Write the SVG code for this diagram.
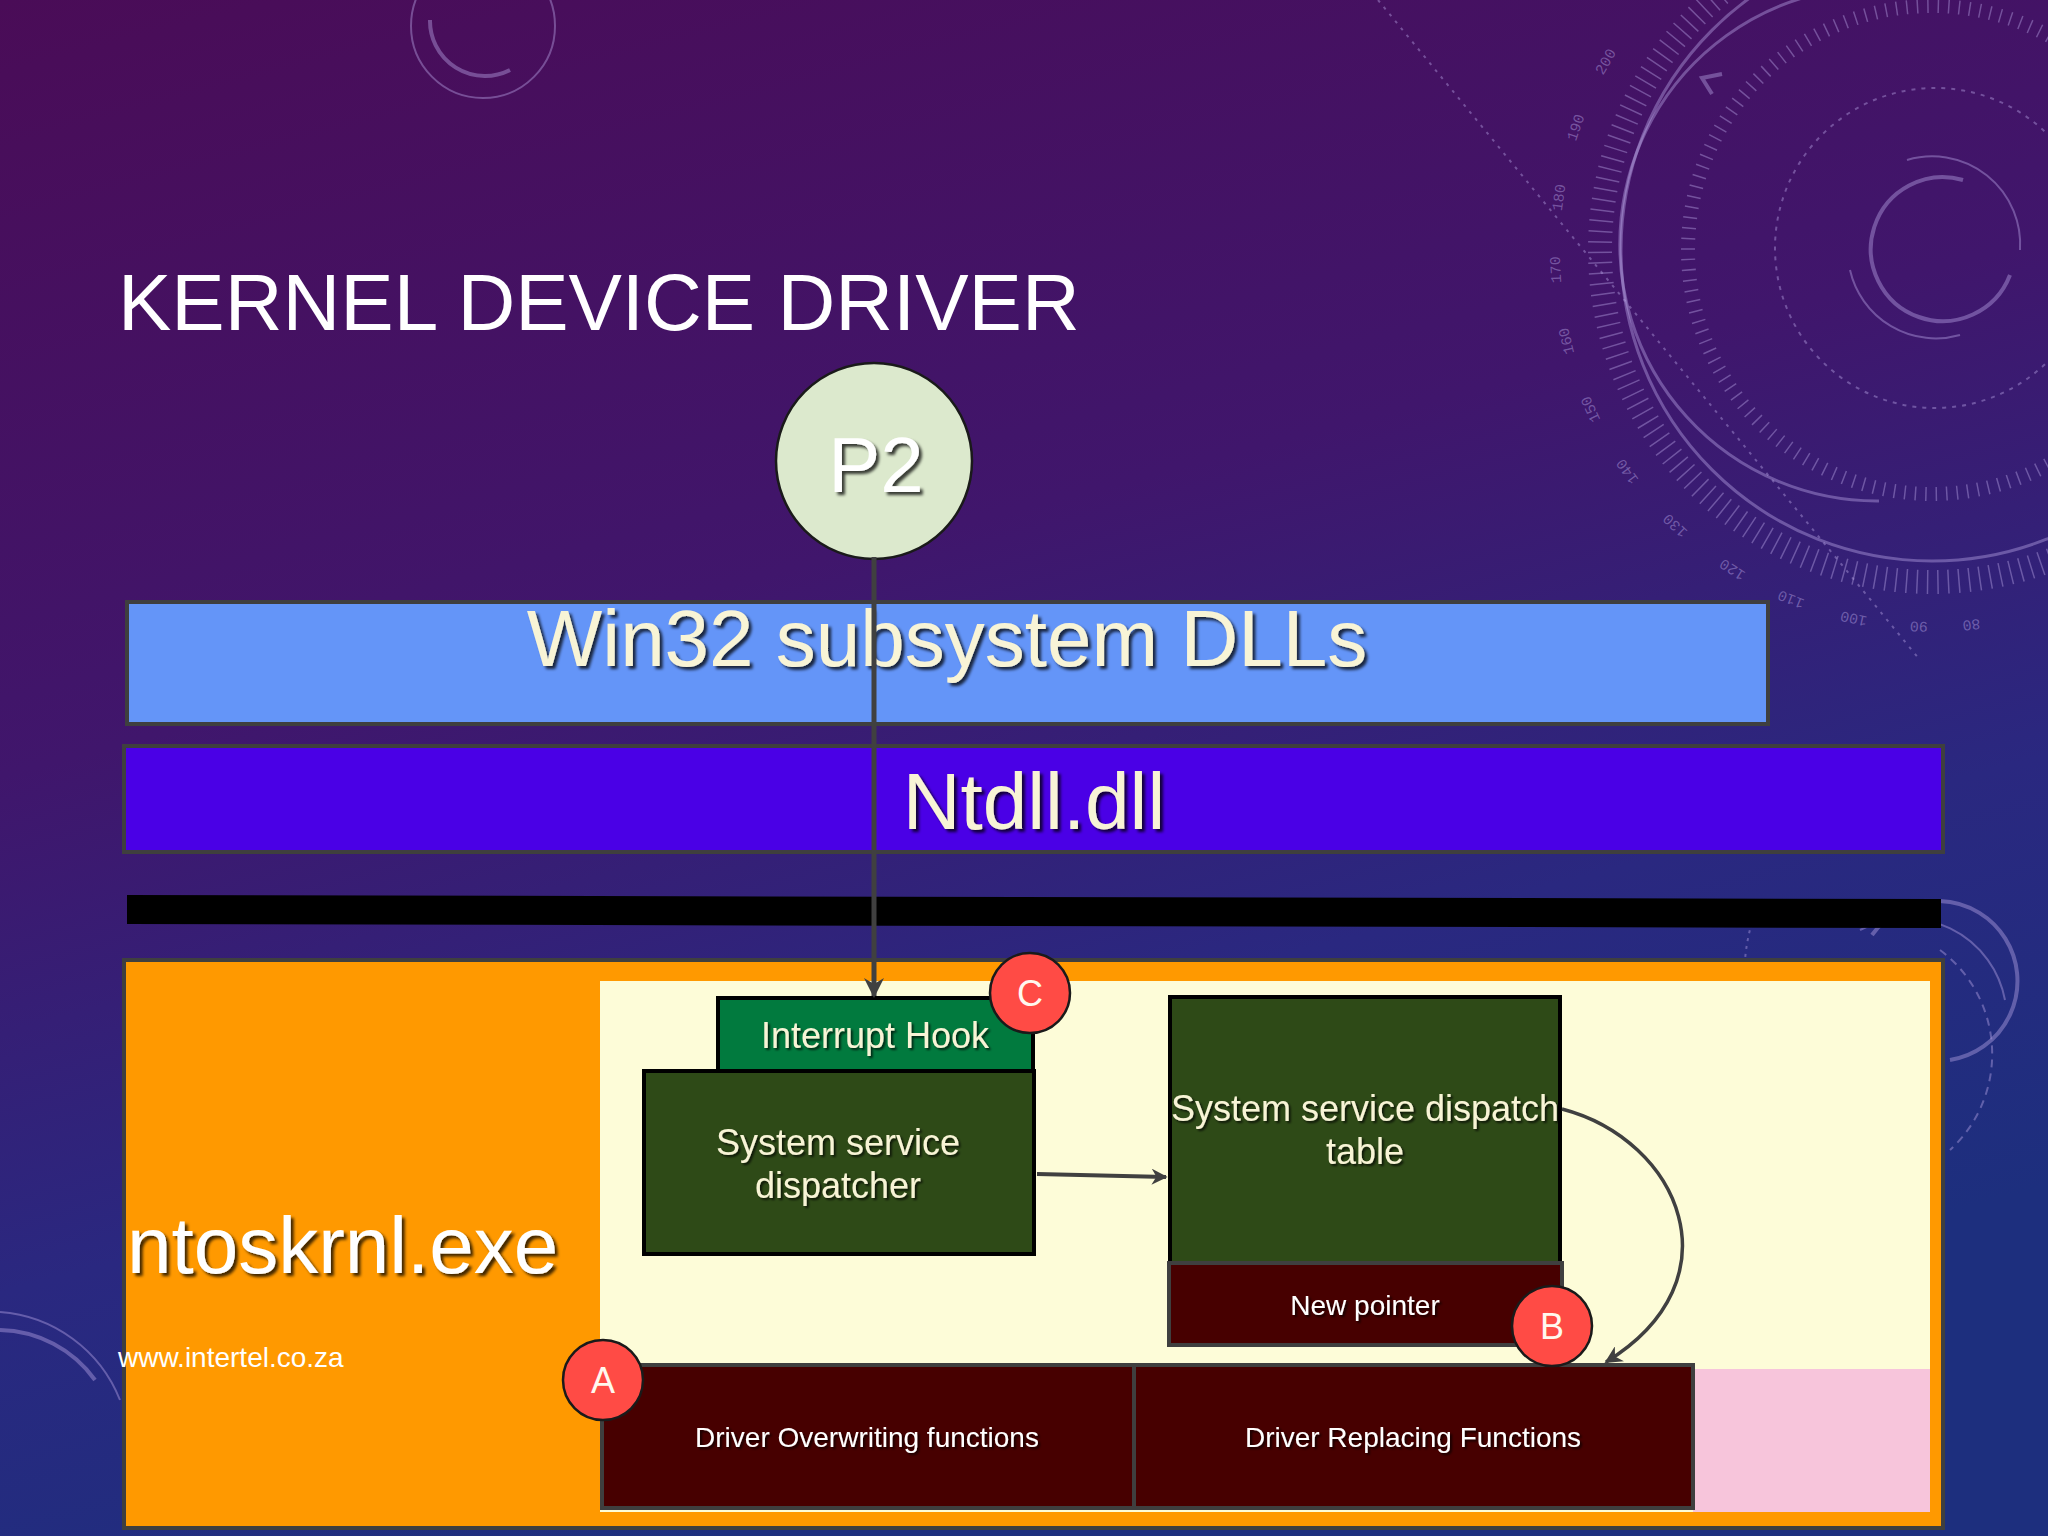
<svg xmlns="http://www.w3.org/2000/svg" width="2048" height="1536" viewBox="0 0 2048 1536">
<defs>
  <linearGradient id="bg" x1="0" y1="0" x2="0.35" y2="1">
    <stop offset="0" stop-color="#4a0c57"/>
    <stop offset="0.45" stop-color="#40166c"/>
    <stop offset="0.75" stop-color="#2a2880"/>
    <stop offset="1" stop-color="#1d2f7e"/>
  </linearGradient>
  <filter id="sh" x="-10%" y="-20%" width="130%" height="150%">
    <feDropShadow dx="3" dy="3" stdDeviation="1.5" flood-color="#000" flood-opacity="0.75"/>
  </filter>
  <filter id="shs" x="-10%" y="-20%" width="130%" height="150%">
    <feDropShadow dx="2" dy="2" stdDeviation="1" flood-color="#000" flood-opacity="0.7"/>
  </filter>
  <marker id="arr" viewBox="0 0 10 10" refX="9" refY="5" markerWidth="4" markerHeight="4" orient="auto" markerUnits="strokeWidth">
    <path d="M0,0 L10,5 L0,10 L3,5 z" fill="#404040"/>
  </marker>
  <marker id="arr2" viewBox="0 0 10 10" refX="9" refY="5" markerWidth="5" markerHeight="5" orient="auto" markerUnits="strokeWidth">
    <path d="M0,0 L10,5 L0,10 L3,5 z" fill="#404040"/>
  </marker>
</defs>
<style>
  .deco{fill:none;stroke:#b9a6e6;stroke-opacity:0.42}
  .num{font-family:"Liberation Mono",monospace;font-size:15px;fill:#b9a6e6;fill-opacity:0.45}
  .box{stroke:#3f3f3f;stroke-width:4}
  .blk{stroke:#000;stroke-width:4}
  .big{font-family:"Liberation Sans",Arial,sans-serif;font-size:80px;text-anchor:middle}
  .mid{font-family:"Liberation Sans",Arial,sans-serif;font-size:36px;text-anchor:middle;fill:#f8f4d6}
  .sm{font-family:"Liberation Sans",Arial,sans-serif;font-size:28px;text-anchor:middle;fill:#ffffff}
  .badge{fill:#ff4b45;stroke:#1a1a1a;stroke-width:2.5}
  .btxt{font-family:"Liberation Sans",Arial,sans-serif;font-size:36px;text-anchor:middle;fill:#fff8ee}
  .conn{fill:none;stroke:#404040}
</style>

<!-- background -->
<rect x="0" y="0" width="2048" height="1536" fill="url(#bg)"/>
<g id="decoration">
  <circle class="deco" cx="483" cy="26" r="72" stroke-width="2"/>
  <path class="deco" d="M430,20 A55,55 0 0 0 510,70" stroke-width="4"/>
  <circle class="deco" cx="1932" cy="250" r="311" stroke-width="3"/>
  <path class="deco" d="M1932,-7 A257,257 0 1 0 1879,501" stroke-width="3"/>
  <circle class="deco" cx="1932" cy="250" r="332" stroke-width="24" stroke-dasharray="1.5 9" stroke-opacity="0.2"/>
  <circle class="deco" cx="1932" cy="250" r="244" stroke-width="14" stroke-dasharray="1.5 9" stroke-opacity="0.16"/>
  <circle class="deco" cx="1935" cy="248" r="160" stroke-width="2" stroke-dasharray="4 6" stroke-opacity="0.35"/>
  <path class="deco" d="M1963,180 A72,72 0 1 0 2010,275" stroke-width="4"/>
  <path class="deco" d="M1907,160 A88,88 0 0 1 2020,250" stroke-width="2"/>
  <path class="deco" d="M1850,270 A88,88 0 0 0 1960,335" stroke-width="2"/>
  <path class="deco" d="M1378,0 L1920,660" stroke-width="2" stroke-dasharray="3 6" stroke-opacity="0.3"/>
  <path class="deco" d="M1712,94 L1702,78 L1722,74" stroke-width="4"/>
  <g class="num">
    <text transform="translate(1932,250) rotate(210) translate(372,0) rotate(90)" text-anchor="middle">200</text>
    <text transform="translate(1932,250) rotate(199) translate(372,0) rotate(90)" text-anchor="middle">190</text>
    <text transform="translate(1932,250) rotate(188) translate(372,0) rotate(90)" text-anchor="middle">180</text>
    <text transform="translate(1932,250) rotate(177) translate(372,0) rotate(90)" text-anchor="middle">170</text>
    <text transform="translate(1932,250) rotate(166) translate(372,0) rotate(90)" text-anchor="middle">160</text>
    <text transform="translate(1932,250) rotate(155) translate(372,0) rotate(90)" text-anchor="middle">150</text>
    <text transform="translate(1932,250) rotate(144) translate(372,0) rotate(90)" text-anchor="middle">140</text>
    <text transform="translate(1932,250) rotate(133) translate(372,0) rotate(90)" text-anchor="middle">130</text>
    <text transform="translate(1932,250) rotate(122) translate(372,0) rotate(90)" text-anchor="middle">120</text>
    <text transform="translate(1932,250) rotate(112) translate(372,0) rotate(90)" text-anchor="middle">110</text>
    <text transform="translate(1932,250) rotate(102) translate(372,0) rotate(90)" text-anchor="middle">100</text>
    <text transform="translate(1932,250) rotate(92) translate(372,0) rotate(90)" text-anchor="middle">90</text>
    <text transform="translate(1932,250) rotate(84) translate(372,0) rotate(90)" text-anchor="middle">80</text>
  </g>
  <path class="deco" d="M1872,935 A80,80 0 1 1 1950,1060" stroke-width="4"/>
  <path class="deco" d="M1860,930 A100,100 0 0 1 2005,1000" stroke-width="2"/>
  <path class="deco" d="M1940,950 A130,130 0 0 1 1950,1150" stroke-width="2" stroke-dasharray="8 6"/>
  <path class="deco" d="M1760,900 A190,190 0 0 0 1745,960" stroke-width="2" stroke-dasharray="3 5"/>
  <path class="deco" d="M0,1330 A120,120 0 0 1 95,1380" stroke-width="4"/>
  <path class="deco" d="M0,1312 A140,140 0 0 1 120,1400" stroke-width="2"/>
</g>

<!-- title -->
<text x="118" y="330" font-family="'Liberation Sans',Arial,sans-serif" font-size="80" fill="#ffffff">KERNEL DEVICE DRIVER</text>

<g id="win32">
  <rect class="box" x="127" y="602" width="1641" height="122" fill="#6495f8"/>
  <text class="big" x="947" y="666" fill="#f8f4d6" filter="url(#sh)">Win32 subsystem DLLs</text>
</g>
<g id="ntdll">
  <rect class="box" x="124" y="746" width="1819" height="106" fill="#4a00e6"/>
  <text class="big" x="1034" y="829" fill="#f8f4d6" filter="url(#sh)">Ntdll.dll</text>
</g>
<g id="bar">
  <polygon points="127,895 1941,899 1941,928 127,924" fill="#000000"/>
</g>
<g id="ntoskrnl">
  <rect class="box" x="124" y="960" width="1819" height="568" fill="#ff9900"/>
  <rect x="600" y="981" width="1330" height="531" fill="#fdfcd8"/>
  <rect x="1693" y="1369" width="237" height="143" fill="#f7c5db"/>
  <text class="big" x="127" y="1273" style="text-anchor:start" fill="#ffffff" filter="url(#sh)">ntoskrnl.exe</text>
  <text x="118" y="1367" font-family="'Liberation Sans',Arial,sans-serif" font-size="28" fill="#ffffff">www.intertel.co.za</text>
</g>

<g id="p2">
  <circle cx="874" cy="461" r="98" fill="#dce9cd" stroke="#1a1a1a" stroke-width="2.5"/>
  <text x="876" y="492" font-family="'Liberation Sans',Arial,sans-serif" font-size="78" text-anchor="middle" fill="#ffffff" filter="url(#sh)">P2</text>
</g>

<g id="interrupt-hook">
  <rect class="blk" x="718" y="998" width="315" height="73" fill="#017a3e"/>
  <text class="mid" x="875" y="1048" filter="url(#shs)">Interrupt Hook</text>
</g>
<g id="ss-dispatcher">
  <rect class="blk" x="644" y="1071" width="390" height="183" fill="#2e4a17"/>
  <text class="mid" x="838" y="1155" filter="url(#shs)">System service</text>
  <text class="mid" x="838" y="1198" filter="url(#shs)">dispatcher</text>
</g>
<g id="ssdt">
  <rect class="blk" x="1170" y="997" width="390" height="266" fill="#2e4a17"/>
  <text class="mid" x="1365" y="1121" filter="url(#shs)">System service dispatch</text>
  <text class="mid" x="1365" y="1164" filter="url(#shs)">table</text>
</g>
<g id="new-pointer">
  <rect class="box" x="1169" y="1263" width="393" height="82" fill="#470000"/>
  <text class="sm" x="1365" y="1315" filter="url(#shs)">New pointer</text>
</g>
<g id="driver-overwriting">
  <rect class="box" x="602" y="1365" width="532" height="143" fill="#470000"/>
  <text class="sm" x="867" y="1447" filter="url(#shs)">Driver Overwriting functions</text>
</g>
<g id="driver-replacing">
  <rect class="box" x="1134" y="1365" width="559" height="143" fill="#470000"/>
  <text class="sm" x="1413" y="1447" filter="url(#shs)">Driver Replacing Functions</text>
</g>

<g id="connectors">
  <line class="conn" x1="874" y1="557" x2="874" y2="996" stroke-width="5" marker-end="url(#arr)"/>
  <line class="conn" x1="1037" y1="1174" x2="1166" y2="1177" stroke-width="4" marker-end="url(#arr)"/>
  <path class="conn" d="M1562,1109 C1680,1140 1740,1280 1606,1362" stroke-width="3.5" marker-end="url(#arr2)"/>
</g>

<g id="badge-c">
  <circle class="badge" cx="1030" cy="993" r="40"/>
  <text class="btxt" x="1030" y="1006">C</text>
</g>
<g id="badge-b">
  <circle class="badge" cx="1552" cy="1326" r="40"/>
  <text class="btxt" x="1552" y="1339">B</text>
</g>
<g id="badge-a">
  <circle class="badge" cx="603" cy="1380" r="40"/>
  <text class="btxt" x="603" y="1393">A</text>
</g>
</svg>
